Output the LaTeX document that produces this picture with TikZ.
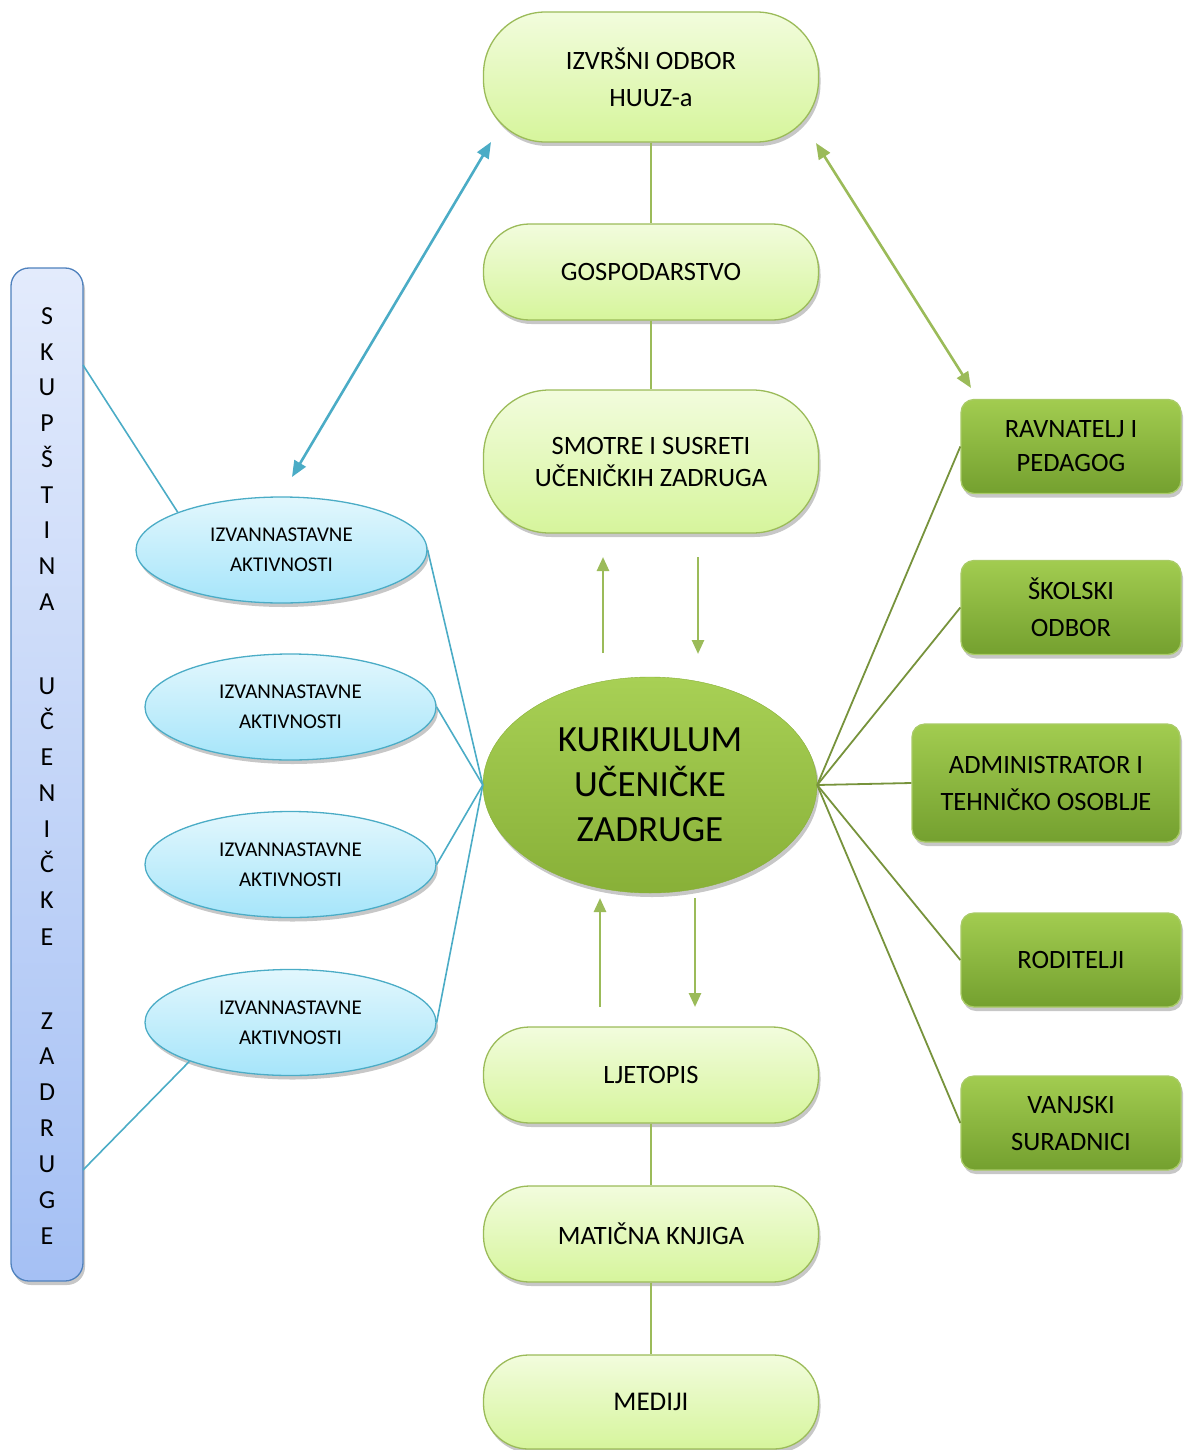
\documentclass[tikz,border=0pt]{standalone}
\usepackage{fontspec}
\setmainfont{Carlito}
\usetikzlibrary{shapes.geometric,arrows.meta,shadows}
\definecolor{pillTop}{HTML}{F2FCDD}
\definecolor{pillBot}{HTML}{D6F59C}
\definecolor{olive}{HTML}{9BBB59}
\definecolor{darkolive}{HTML}{77933C}
\definecolor{cyanTop}{HTML}{E2F7FD}
\definecolor{cyanBot}{HTML}{A6E5FA}
\definecolor{cyanLine}{HTML}{4BACC6}
\definecolor{barTop}{HTML}{E3EBFC}
\definecolor{barBot}{HTML}{A5C0F4}
\definecolor{barLine}{HTML}{4F81BD}
\definecolor{boxTop}{HTML}{A2CC50}
\definecolor{boxBot}{HTML}{74A02F}
\definecolor{boxLine}{HTML}{A9CB67}
\definecolor{coreTop}{HTML}{A8D055}
\definecolor{coreBot}{HTML}{88B038}
\tikzset{
  shad/.style={drop shadow={shadow xshift=2pt,shadow yshift=-4pt,opacity=0.22,fill=black}},
  pill/.style={shad,draw=olive,line width=1.3pt,top color=pillTop,bottom color=pillBot,
    minimum width=335pt,inner sep=0pt,align=center,font=\fontsize{26.5}{37}\selectfont},
  act/.style={shad,ellipse,draw=cyanLine,line width=1.3pt,top color=cyanTop,bottom color=cyanBot,
    minimum width=291pt,minimum height=106pt,inner sep=0pt,align=center,font=\fontsize{21}{30}\selectfont},
  role/.style={shad,draw=boxLine,line width=1.3pt,top color=boxTop,bottom color=boxBot,rounded corners=13pt,
    minimum width=220pt,minimum height=94pt,inner sep=0pt,align=center,font=\fontsize{26.5}{37}\selectfont},
  letter/.style={font=\fontsize{26}{30}\selectfont,text height=17pt,text depth=0pt,inner sep=0pt},
  vlink/.style={draw=olive,line width=1.6pt},
  cyanlink/.style={draw=cyanLine,line width=1.6pt},
  olivelink/.style={draw=darkolive,line width=1.8pt},
  tip/.style={-{Triangle[length=14pt,width=12pt]}},
  dtip/.style={{Triangle[length=16pt,width=13pt]}-{Triangle[length=16pt,width=13pt]}},
}
\begin{document}
\begin{tikzpicture}[x=1pt,y=-1pt]
\useasboundingbox (0,0) rectangle (1183,1450);
% left assembly bar
\node[shad,draw=barLine,line width=1.3pt,top color=barTop,bottom color=barBot,rounded corners=18pt,
  minimum width=72pt,minimum height=1013pt,inner sep=0pt] (bar) at (47,774.5) {};
\foreach \y/\l [count=\i] in {316/S,352/K,387/U,423/P,459/Š,495/T,530/I,566/N,602/A,
  686/U,721/Č,757/E,793/N,829/I,864/Č,900/K,937/E,
  1021/Z,1056/A,1092/D,1128/R,1164/U,1200/G,1236/E}
  \node[letter] (L\i) at (47,\y) {\l};

% central column
\node[pill,minimum height=130pt,rounded corners=62pt] (izv) at (651,77) {IZVRŠNI ODBOR\\HUUZ-a};
\node[pill,minimum height=96pt,rounded corners=46pt] (gos) at (651,272) {GOSPODARSTVO};
\node[pill,minimum height=143pt,rounded corners=66pt,font=\fontsize{26.5}{32}\selectfont] (smo) at (651,461.5) {SMOTRE I SUSRETI\\UČENIČKIH ZADRUGA};
\node[shad,ellipse,top color=coreTop,bottom color=coreBot,draw=coreBot,line width=0.4pt,
  minimum width=334pt,minimum height=216pt,inner sep=0pt,align=center,
  font=\fontsize{37}{45}\selectfont] (core) at (650,785) {KURIKULUM\\UČENIČKE\\ZADRUGE};
\node[pill,minimum height=96pt,rounded corners=46pt] (lje) at (651,1075) {LJETOPIS};
\node[pill,minimum height=96pt,rounded corners=46pt] (mat) at (651,1234) {MATIČNA KNJIGA};
\node[pill,minimum height=94pt,rounded corners=45pt,font=\fontsize{27}{37}\selectfont] (med) at (651,1402) {MEDIJI};

% activities
\node[act] (a1) at (281.5,550) {IZVANNASTAVNE\\AKTIVNOSTI};
\node[act] (a2) at (290.5,707) {IZVANNASTAVNE\\AKTIVNOSTI};
\node[act] (a3) at (290.5,864.5) {IZVANNASTAVNE\\AKTIVNOSTI};
\node[act] (a4) at (290.5,1022.5) {IZVANNASTAVNE\\AKTIVNOSTI};

% roles
\node[role,font=\fontsize{26.5}{34}\selectfont] (r1) at (1071,446.5) {RAVNATELJ I\\PEDAGOG};
\node[role] (r2) at (1071,607.5) {ŠKOLSKI\\ODBOR};
\node[role,minimum width=268pt,minimum height=118pt] (r3) at (1046,783) {ADMINISTRATOR I\\TEHNIČKO OSOBLJE};
\node[role] (r4) at (1071,960) {RODITELJI};
\node[role] (r5) at (1071,1123) {VANJSKI\\SURADNICI};

% vertical links
\draw[vlink] (izv) -- (gos);
\draw[vlink] (gos) -- (smo);
\draw[vlink] (lje) -- (mat);
\draw[vlink] (mat) -- (med);

% up/down arrows
\coordinate (u1s) at (603,653); \coordinate (u1e) at (603,557);
\coordinate (d1s) at (698,557); \coordinate (d1e) at (698,654);
\coordinate (u2s) at (600,1007); \coordinate (u2e) at (600,898);
\coordinate (d2s) at (695,898); \coordinate (d2e) at (695,1007);
\draw[vlink,line width=2.6pt,tip] (u1s) -- (u1e);
\draw[vlink,line width=2.6pt,tip] (d1s) -- (d1e);
\draw[vlink,line width=2.6pt,tip] (u2s) -- (u2e);
\draw[vlink,line width=2.6pt,tip] (d2s) -- (d2e);

% double arrows
\coordinate (bA) at (491,142); \coordinate (bB) at (292,477);
\coordinate (gA) at (816,143); \coordinate (gB) at (971,388);
\draw[cyanlink,line width=2.6pt,dtip] (bA) -- (bB);
\draw[olive,line width=2.6pt,dtip] (gA) -- (gB);

% left links
\foreach \a in {a1,a2,a3,a4} \draw[cyanlink] (core.west) -- (\a.east);
\coordinate (bar1) at (83,365);
\coordinate (bar2) at (83,1170);
\draw[cyanlink] (bar1) -- (a1.160);
\draw[cyanlink] (a4.201) -- (bar2);

% right links
\foreach \r in {r1,r2,r3,r4,r5} \draw[olivelink] (core.east) -- (\r.west);
\end{tikzpicture}
\end{document}
